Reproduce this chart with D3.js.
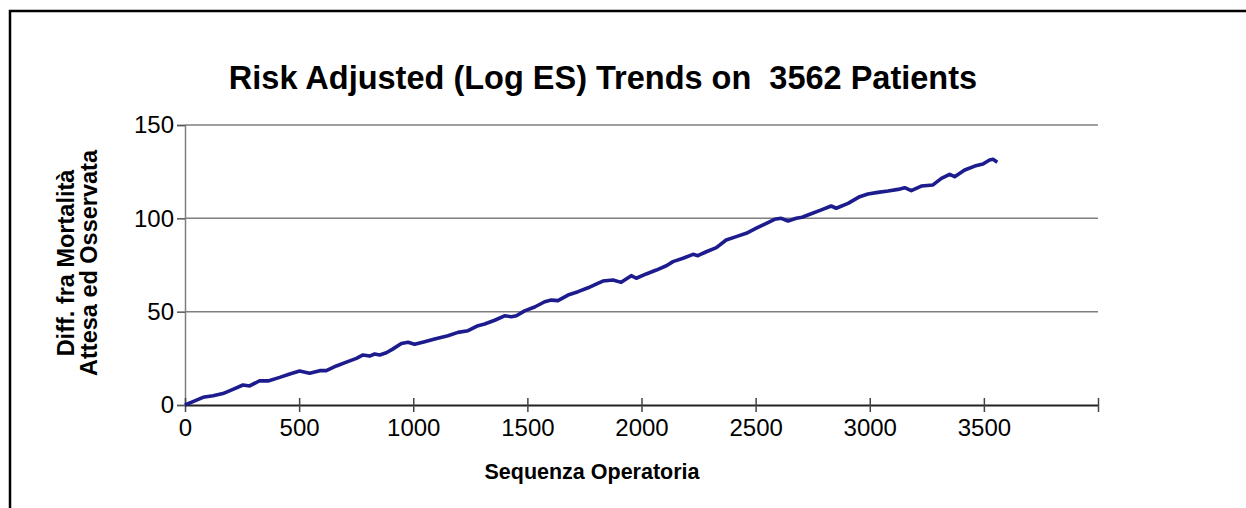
<!DOCTYPE html>
<html>
<head>
<meta charset="utf-8">
<script src="https://cdn.jsdelivr.net/npm/d3@7"></script>
<style>
    body { margin: 0; background: #fff; }
    text { font-family: Arial, "Liberation Sans", sans-serif; }
</style>
</head>
<body>
<div id="chart"></div>
<script>
//图表数据
var seq_x = [0, 35, 79, 123, 166, 210, 254, 283, 327, 364, 415, 459, 502, 546, 590, 619, 663, 707, 751, 780,
    809, 831, 853, 882, 908, 948, 977, 1006, 1050, 1094, 1152, 1196, 1240, 1284, 1313, 1357, 1400, 1430, 1452,
    1488, 1532, 1576, 1605, 1634, 1678, 1722, 1766, 1806, 1831, 1875, 1911, 1955, 1977, 2021, 2065, 2109, 2138,
    2182, 2226, 2247, 2284, 2328, 2371, 2415, 2459, 2503, 2547, 2583, 2612, 2642, 2678, 2704, 2729, 2788, 2831,
    2853, 2905, 2956, 2992, 3036, 3080, 3124, 3153, 3182, 3226, 3277, 3314, 3350, 3372, 3416, 3460, 3496, 3525,
    3540, 3559];
var diff_y = [0, 1.8, 4.1, 5.0, 6.1, 8.4, 10.7, 10.2, 13.0, 12.9, 14.8, 16.6, 18.2, 17.0, 18.4, 18.4, 20.9, 23.0,
    25.0, 26.8, 26.2, 27.3, 26.8, 28.0, 29.8, 33.0, 33.6, 32.5, 33.9, 35.4, 37.1, 38.9, 39.8, 42.5, 43.4, 45.4,
    47.8, 47.3, 47.8, 50.4, 52.5, 55.3, 56.2, 55.9, 58.9, 60.7, 62.8, 65.0, 66.4, 67.0, 65.7, 69.3, 67.9, 70.2,
    72.3, 74.6, 76.8, 78.6, 80.7, 80.0, 82.1, 84.3, 88.4, 90.2, 92.0, 94.7, 97.3, 99.5, 100.0, 98.6, 100.0, 100.6,
    101.8, 104.5, 106.6, 105.4, 108.0, 111.6, 113.0, 113.9, 114.6, 115.5, 116.4, 114.8, 117.3, 117.9, 121.4,
    123.6, 122.3, 125.9, 128.0, 129.1, 131.3, 131.6, 130.0];
var x_ticks = [0, 500, 1000, 1500, 2000, 2500, 3000, 3500, 4000];
var x_labels = ["0", "500", "1000", "1500", "2000", "2500", "3000", "3500", ""];
var y_ticks = [0, 50, 100, 150];

var chart_title = "Risk Adjusted (Log ES) Trends on \u00a03562 Patients";
var x_title = "Sequenza Operatoria";
var y_title = ["Diff. fra Mortalità", "Attesa ed Osservata"];

//绘图属性
const width = 1246;
const height = 508;
var plot = {left: 185, right: 1098, top: 125, bottom: 405};

var svg = d3.select("#chart").append("svg")
    .attr("width", width).attr("height", height);

//外框
svg.append("rect")
    .attr("x", 10).attr("y", 11)
    .attr("width", 1250).attr("height", 520)
    .attr("fill", "none")
    .attr("stroke", "#000")
    .attr("stroke-width", 2.5);

var x = d3.scaleLinear().domain([0, 4000]).range([plot.left, plot.right]);
var y = d3.scaleLinear().domain([0, 150]).range([plot.bottom, plot.top]);

//网格线
svg.append("g")
    .selectAll(".grid")
    .data(y_ticks.filter(function (d) { return d > 0; }))
    .enter()
    .append("line")
    .attr("class", "grid")
    .attr("x1", plot.left).attr("x2", plot.right)
    .attr("y1", function (d) { return y(d); })
    .attr("y2", function (d) { return y(d); })
    .attr("stroke", "#7f7f7f")
    .attr("stroke-width", 1.5);

//y轴
var y_axis = svg.append("g")
    .attr("transform", "translate(" + plot.left + ",0)")
    .call(d3.axisLeft(y).tickValues(y_ticks).tickSize(8).tickPadding(3));
y_axis.select(".domain").attr("stroke", "#7f7f7f").attr("stroke-width", 1.5);
y_axis.selectAll(".tick line").attr("stroke", "#555").attr("stroke-width", 1.5);
y_axis.selectAll(".tick text")
    .attr("font-size", 24)
    .attr("fill", "#000")
    .attr("font-family", "Arial, 'Liberation Sans', sans-serif");

//x轴
var x_axis = svg.append("g")
    .attr("transform", "translate(0," + plot.bottom + ")")
    .call(d3.axisBottom(x).tickValues(x_ticks)
        .tickFormat(function (d, i) { return x_labels[i]; })
        .tickSize(0).tickPadding(14));
x_axis.select(".domain").attr("stroke", "#222").attr("stroke-width", 2);
x_axis.selectAll(".tick line")
    .attr("y1", -7).attr("y2", 7)
    .attr("stroke", "#444").attr("stroke-width", 1.5);
x_axis.selectAll(".tick text")
    .attr("font-size", 24)
    .attr("fill", "#000")
    .attr("font-family", "Arial, 'Liberation Sans', sans-serif");

//数据曲线
var line = d3.line()
    .x(function (d, i) { return x(seq_x[i]); })
    .y(function (d) { return y(d); });

svg.append("path")
    .datum(diff_y)
    .attr("d", line)
    .attr("fill", "none")
    .attr("stroke", "#1c1c8e")
    .attr("stroke-width", 3.6)
    .attr("stroke-linejoin", "round");

//标题
svg.append("text")
    .attr("x", 603).attr("y", 89)
    .attr("text-anchor", "middle")
    .attr("font-size", 32.5)
    .attr("font-weight", "bold")
    .text(chart_title);

svg.append("text")
    .attr("x", 592).attr("y", 479)
    .attr("text-anchor", "middle")
    .attr("font-size", 21.5)
    .attr("font-weight", "bold")
    .text(x_title);

svg.append("g")
    .selectAll(".y_title")
    .data(y_title)
    .enter()
    .append("text")
    .attr("class", "y_title")
    .attr("transform", function (d, i) {
        return "translate(" + (74 + i * 23) + ",263) rotate(-90)";
    })
    .attr("text-anchor", "middle")
    .attr("font-size", 23.5)
    .attr("font-weight", "bold")
    .text(function (d) { return d; });
</script>
</body>
</html>
